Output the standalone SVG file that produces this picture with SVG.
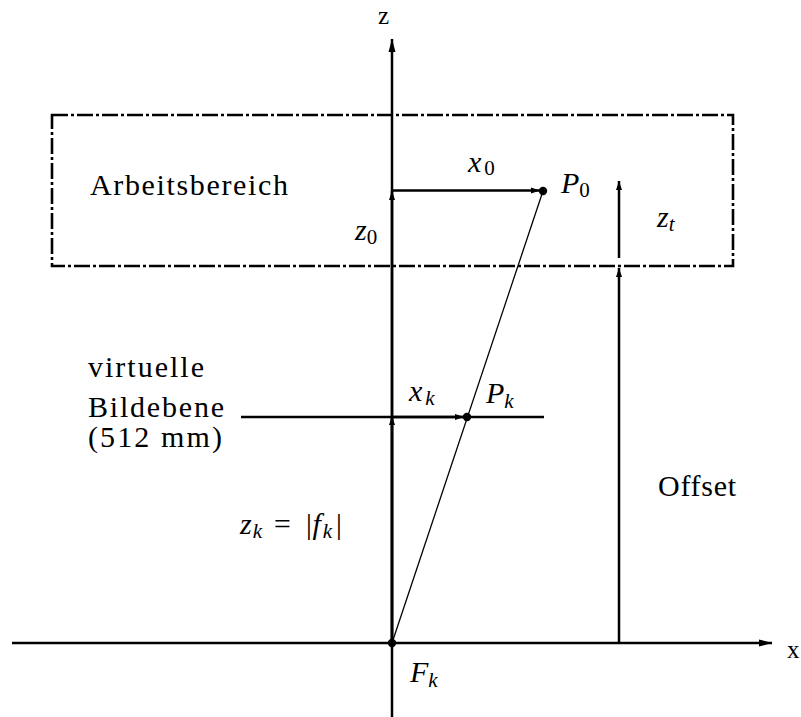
<svg xmlns="http://www.w3.org/2000/svg" width="801" height="717" viewBox="0 0 801 717">
<defs>
<style>
text{font-family:"Liberation Serif","DejaVu Serif",serif}
.t{font-size:30px;fill:#000}
.m{font-size:30px;font-style:italic;fill:#000}
.s{font-size:21px;font-style:normal}
.si{font-size:21px;font-style:italic}
.ax{stroke:#000;stroke-width:2.5;fill:none}
.th{stroke:#000;stroke-width:1.3;fill:none}
.box{stroke:#000;stroke-width:2.6;fill:none;stroke-dasharray:16 3 3 3}
</style>
<marker id="ah" markerUnits="userSpaceOnUse" markerWidth="14" markerHeight="10" viewBox="0 0 14 10" refX="13" refY="5" orient="auto">
<path d="M0,1.5 L13,5 L0,8.5 Z" fill="#000"/>
</marker>
<marker id="as" markerUnits="userSpaceOnUse" markerWidth="10" markerHeight="8" viewBox="0 0 10 8" refX="9" refY="4" orient="auto">
<path d="M0,1 L9,4 L0,7 Z" fill="#000"/>
</marker>
</defs>
<rect width="801" height="717" fill="#fff"/>
<g id="arbeitsbereich">
<rect class="box" x="52" y="115" width="681" height="151"/>
<text class="t" x="90" y="195" textLength="198" lengthAdjust="spacing">Arbeitsbereich</text>
</g>
<g id="connectors">
<line class="ax" x1="392" y1="717" x2="392" y2="39" marker-end="url(#ah)"/>
<line class="ax" x1="12" y1="643" x2="772" y2="643" marker-end="url(#ah)"/>
<line class="ax" x1="392" y1="643" x2="392" y2="191" marker-end="url(#as)"/>
<line class="ax" x1="392" y1="643" x2="392" y2="416" marker-end="url(#as)"/>
<line class="ax" x1="392" y1="190.5" x2="540" y2="190.5" marker-end="url(#as)"/>
<line class="ax" stroke-width="3" x1="241" y1="417" x2="544" y2="417"/>
<line class="ax" x1="392" y1="417" x2="464" y2="417" marker-end="url(#as)"/>
<line class="ax" x1="619" y1="643" x2="619" y2="268" marker-end="url(#as)"/>
<line class="ax" x1="619" y1="258" x2="619" y2="181" marker-end="url(#as)"/>
<line class="th" x1="392" y1="643" x2="543" y2="191"/>
</g>
<g id="Fk">
<circle cx="392" cy="643" r="4.2" fill="#000"/>
<text class="m" x="410" y="682">F<tspan class="si" dy="5">k</tspan></text>
</g>
<g id="P0">
<circle cx="543" cy="191" r="4.2" fill="#000"/>
<text class="m" x="561" y="193">P<tspan class="s" dy="4">0</tspan></text>
</g>
<g id="Pk">
<circle cx="467" cy="417" r="4.2" fill="#000"/>
<text class="m" x="486" y="403">P<tspan class="si" dy="5">k</tspan></text>
</g>
<g id="labels">
<text class="t" style="font-size:25px" x="378" y="24">z</text>
<text class="t" style="font-size:25px" x="787" y="658">x</text>
<text class="m" x="468" y="172">x<tspan class="s" dx="3" dy="3">0</tspan></text>
<text class="m" x="355" y="240">z<tspan class="s" dy="4">0</tspan></text>
<text class="m" x="657" y="227">z<tspan class="si" dy="4">t</tspan></text>
<text class="m" x="409" y="401">x<tspan class="si" dx="3" dy="4">k</tspan></text>
<text class="m" x="240" y="534">z<tspan class="si" dx="1" dy="4">k</tspan><tspan class="t" dx="10" dy="-4">=</tspan><tspan class="t" dx="12">|</tspan>f<tspan class="si" dx="2" dy="4">k</tspan><tspan class="t" dx="2" dy="-4">|</tspan></text>
<text class="t" x="88" y="377" textLength="116" lengthAdjust="spacing">virtuelle</text>
<text class="t" x="88" y="417" textLength="136" lengthAdjust="spacing">Bildebene</text>
<text class="t" x="88" y="447" textLength="134" lengthAdjust="spacing">(512 mm)</text>
<text class="t" x="658" y="496" textLength="78" lengthAdjust="spacing">Offset</text>
</g>
</svg>
